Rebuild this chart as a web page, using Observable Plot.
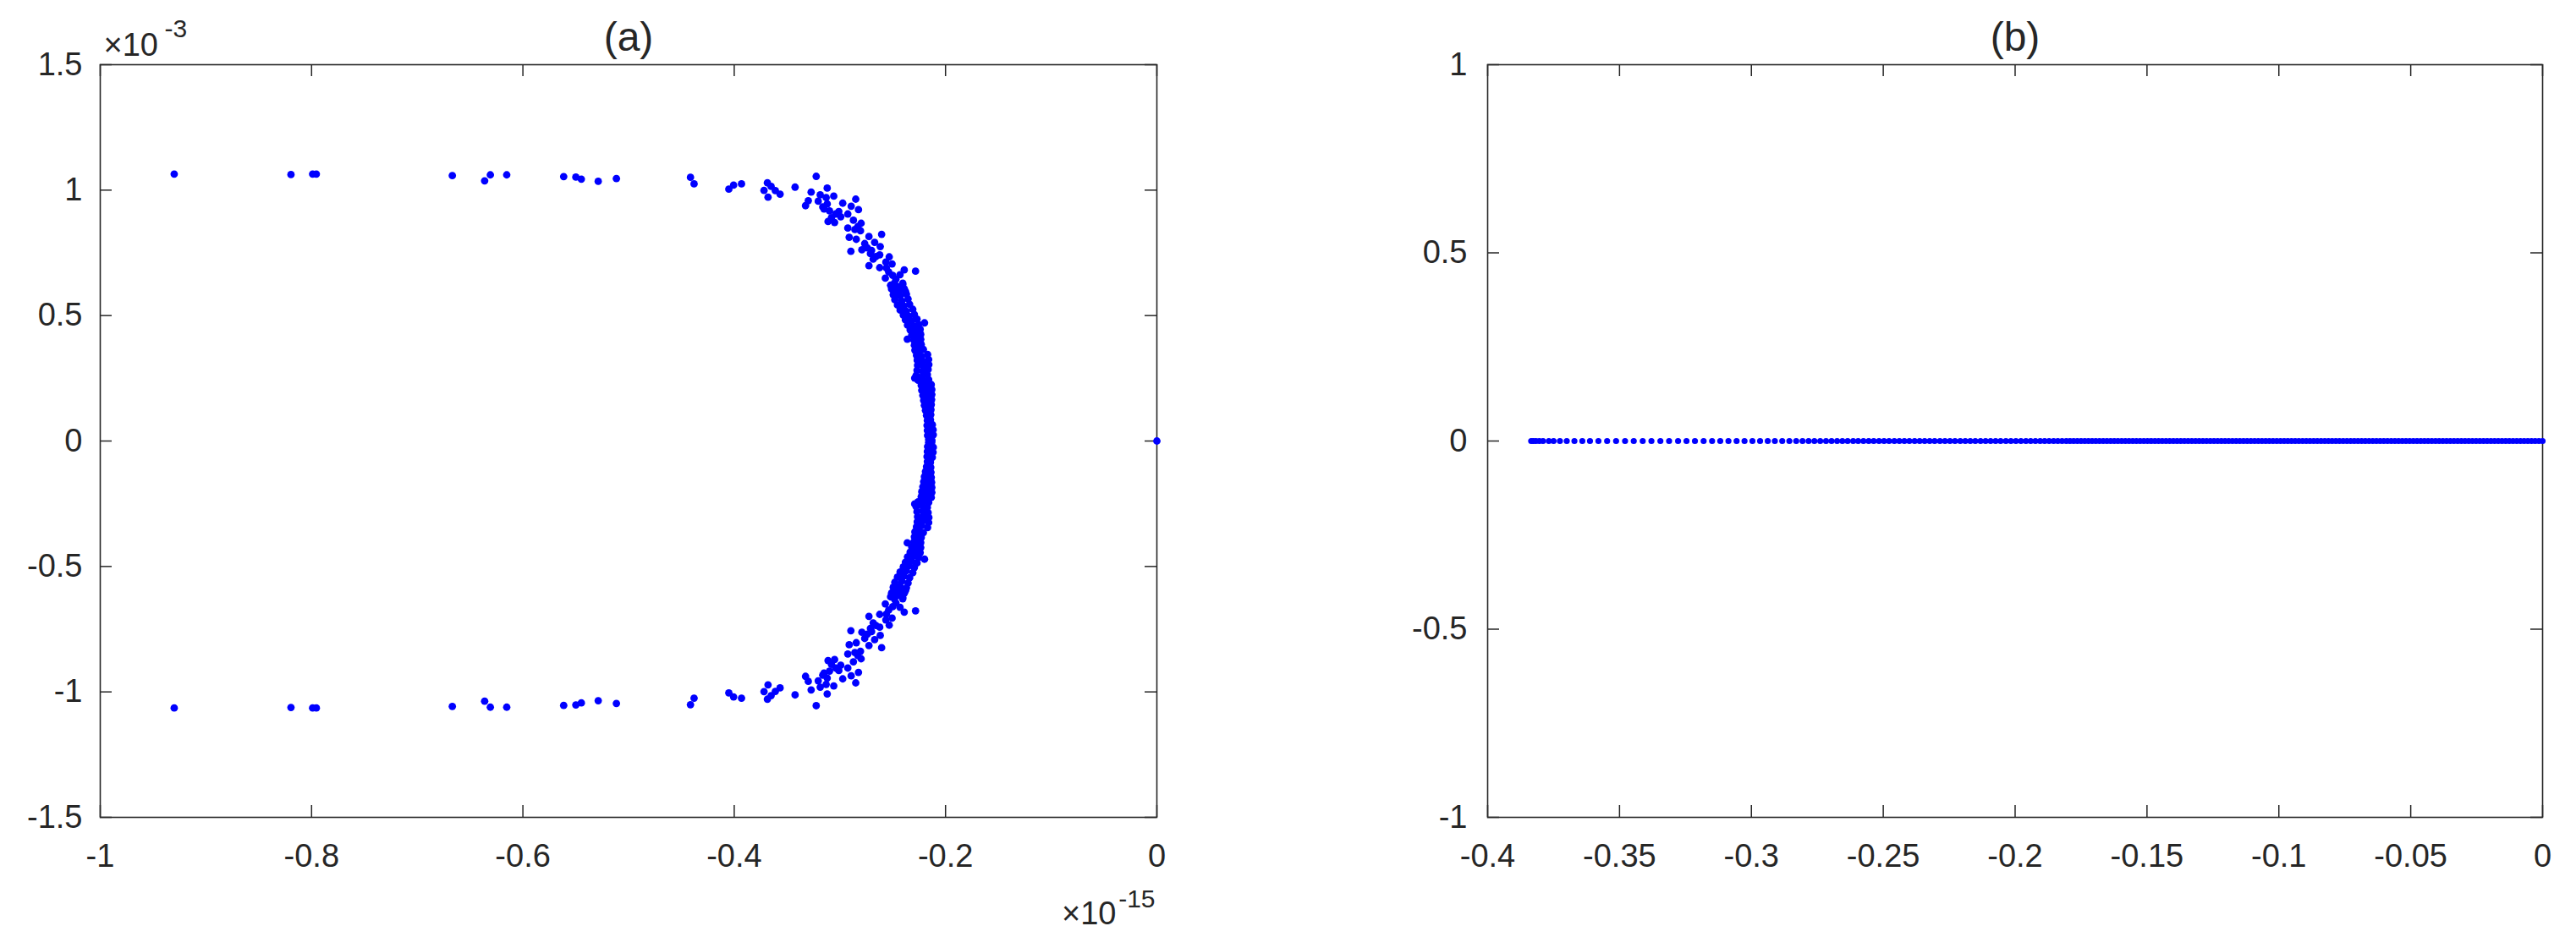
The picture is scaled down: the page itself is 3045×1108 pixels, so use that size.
<!DOCTYPE html>
<html>
<head>
<meta charset="utf-8">
<script src="https://cdn.jsdelivr.net/npm/d3@7"></script>
<script src="https://cdn.jsdelivr.net/npm/@observablehq/plot@0.6"></script>
<style>
html, body { margin: 0; padding: 0; background: #ffffff; }
#root { position: relative; width: 3045px; height: 1108px; overflow: hidden; background: #ffffff;
        font-family: "Liberation Sans", Arial, Helvetica, sans-serif; }
#root svg { position: absolute; top: 0; overflow: visible; }
</style>
</head>
<body>
<div id="root"></div>
<script>
// ---------------- DATA ----------------
// Panel (a): eigenvalues, real part in units of 1e-15, imaginary part in units of 1e-3
const panelAUpper = [
  [-0.9300,1.064],[-0.8195,1.062],[-0.7990,1.064],[-0.7955,1.064],[-0.6668,1.058],[-0.6362,1.037],
  [-0.6308,1.061],[-0.6153,1.061],[-0.5614,1.054],[-0.5499,1.052],[-0.5447,1.044],[-0.5287,1.035],
  [-0.5115,1.046],[-0.4414,1.051],[-0.4380,1.025],[-0.4051,1.004],[-0.4006,1.020],[-0.3931,1.025],
  [-0.3686,1.029],[-0.3651,1.015],[-0.3718,0.999],[-0.3611,0.998],[-0.3566,0.984],[-0.3680,0.972],
  [-0.3424,1.012],[-0.3224,1.055],[-0.3272,0.992],[-0.3120,1.008],[-0.3186,0.981],[-0.3058,0.976],
  [-0.3130,0.970],[-0.3299,0.958],[-0.3325,0.938],[-0.3205,0.956],[-0.3162,0.933],[-0.3120,0.945],
  [-0.3098,0.917],[-0.3040,0.905],[-0.2973,0.948],[-0.2850,0.964],[-0.2893,0.936],[-0.2824,0.922],
  [-0.2992,0.894],[-0.2925,0.905],[-0.3112,0.875],[-0.3050,0.871],[-0.2872,0.880],[-0.2799,0.868],
  [-0.2925,0.849],[-0.2858,0.843],[-0.2805,0.838],[-0.2912,0.812],[-0.2845,0.804],[-0.2725,0.815],
  [-0.2605,0.824],[-0.2765,0.787],[-0.2671,0.792],[-0.2618,0.775],[-0.2792,0.762],[-0.2896,0.756],
  [-0.2711,0.747],[-0.2623,0.742],[-0.2685,0.725],[-0.2533,0.734],[-0.2565,0.713],[-0.2506,0.706],
  [-0.2725,0.699],[-0.2623,0.691],[-0.2538,0.674],[-0.2391,0.682],[-0.2284,0.677],[-0.2431,0.663],
  [-0.2570,0.649],[-0.2485,0.629],[-0.2405,0.629],[-0.2458,0.595],[-0.2511,0.606],[-0.2378,0.595],
  [-0.3150,0.925],[-0.3080,0.890],[-0.3010,0.915],[-0.2830,0.855],[-0.2740,0.770],[-0.2700,0.760],
  [-0.2660,0.735],[-0.2560,0.690],[-0.2500,0.660],[-0.2470,0.645],[-0.2440,0.615],[-0.2420,0.605],
  [-0.2470,0.580],
  [-0.2520,0.621],[-0.2465,0.617],[-0.2405,0.624],[-0.2500,0.603],[-0.2445,0.598],[-0.2390,0.606],
  [-0.2495,0.583],[-0.2430,0.579],[-0.2370,0.585],[-0.2480,0.563],[-0.2415,0.558],[-0.2355,0.566],
  [-0.2455,0.542],[-0.2395,0.538],[-0.2340,0.545],[-0.2430,0.522],[-0.2370,0.517],[-0.2310,0.525],
  [-0.2400,0.502],[-0.2345,0.497],[-0.2295,0.504],[-0.2380,0.483],[-0.2320,0.478],[-0.2270,0.486],
  [-0.2360,0.462],[-0.2300,0.457],[-0.2255,0.465],[-0.2335,0.443],[-0.2285,0.438],[-0.2240,0.445],
  [-0.2320,0.422],[-0.2275,0.417],[-0.2235,0.425],[-0.2300,0.402],[-0.2265,0.397],[-0.2235,0.405],
  [-0.2295,0.382],[-0.2260,0.377],[-0.2230,0.385],[-0.2290,0.362],[-0.2250,0.357],[-0.2210,0.365],
  [-0.2275,0.342],[-0.2225,0.337],[-0.2170,0.345],[-0.2268,0.322],[-0.2215,0.317],[-0.2160,0.325],
  [-0.2265,0.302],[-0.2210,0.297],[-0.2158,0.305],[-0.2270,0.282],[-0.2215,0.277],[-0.2165,0.285],
  [-0.2278,0.262],[-0.2220,0.257],[-0.2172,0.265],[-0.2260,0.242],[-0.2205,0.237],[-0.2160,0.245],
  [-0.2230,0.222],[-0.2180,0.217],[-0.2135,0.225],[-0.2225,0.202],[-0.2175,0.197],[-0.2130,0.205],
  [-0.2215,0.182],[-0.2170,0.177],[-0.2130,0.185],[-0.2207,0.162],[-0.2165,0.157],[-0.2132,0.165],
  [-0.2200,0.142],[-0.2160,0.137],[-0.2135,0.145],[-0.2190,0.122],[-0.2158,0.117],[-0.2138,0.125],
  [-0.2180,0.102],[-0.2155,0.097],[-0.2140,0.105],[-0.2172,0.082],[-0.2150,0.077],[-0.2143,0.085],
  [-0.2175,0.062],[-0.2148,0.057],[-0.2125,0.065],[-0.2172,0.042],[-0.2140,0.037],[-0.2118,0.045],
  [-0.2170,0.022],[-0.2145,0.017],[-0.2116,0.025],[-0.2160,0.006],[-0.2130,0.004],
  [-0.2199,0.471],[-0.2362,0.406],[-0.2292,0.251]
];
const panelALower = [
  [-0.9300,-1.064],[-0.8195,-1.062],[-0.7990,-1.064],[-0.7955,-1.064],[-0.6668,-1.058],[-0.6362,-1.037],
  [-0.6308,-1.061],[-0.6153,-1.061],[-0.5614,-1.054],[-0.5499,-1.052],[-0.5447,-1.044],[-0.5287,-1.035],
  [-0.5115,-1.046],[-0.4414,-1.051],[-0.4380,-1.025],[-0.4051,-1.004],[-0.4006,-1.020],[-0.3931,-1.025],
  [-0.3686,-1.029],[-0.3651,-1.015],[-0.3718,-0.999],[-0.3611,-0.998],[-0.3566,-0.984],[-0.3680,-0.972],
  [-0.3424,-1.012],[-0.3224,-1.055],[-0.3272,-0.992],[-0.3120,-1.008],[-0.3186,-0.981],[-0.3058,-0.976],
  [-0.3130,-0.970],[-0.3299,-0.958],[-0.3325,-0.938],[-0.3205,-0.956],[-0.3162,-0.933],[-0.3120,-0.945],
  [-0.3098,-0.917],[-0.3040,-0.905],[-0.2973,-0.948],[-0.2850,-0.964],[-0.2893,-0.936],[-0.2824,-0.922],
  [-0.2992,-0.894],[-0.2925,-0.905],[-0.3112,-0.875],[-0.3050,-0.871],[-0.2872,-0.880],[-0.2799,-0.868],
  [-0.2925,-0.849],[-0.2858,-0.843],[-0.2805,-0.838],[-0.2912,-0.812],[-0.2845,-0.804],[-0.2725,-0.815],
  [-0.2605,-0.824],[-0.2765,-0.787],[-0.2671,-0.792],[-0.2618,-0.775],[-0.2792,-0.762],[-0.2896,-0.756],
  [-0.2711,-0.747],[-0.2623,-0.742],[-0.2685,-0.725],[-0.2533,-0.734],[-0.2565,-0.713],[-0.2506,-0.706],
  [-0.2725,-0.699],[-0.2623,-0.691],[-0.2538,-0.674],[-0.2391,-0.682],[-0.2284,-0.677],[-0.2431,-0.663],
  [-0.2570,-0.649],[-0.2485,-0.629],[-0.2405,-0.629],[-0.2458,-0.595],[-0.2511,-0.606],[-0.2378,-0.595],
  [-0.3150,-0.925],[-0.3080,-0.890],[-0.3010,-0.915],[-0.2830,-0.855],[-0.2740,-0.770],[-0.2700,-0.760],
  [-0.2660,-0.735],[-0.2560,-0.690],[-0.2500,-0.660],[-0.2470,-0.645],[-0.2440,-0.615],[-0.2420,-0.605],
  [-0.2470,-0.580],
  [-0.2520,-0.621],[-0.2465,-0.617],[-0.2405,-0.624],[-0.2500,-0.603],[-0.2445,-0.598],[-0.2390,-0.606],
  [-0.2495,-0.583],[-0.2430,-0.579],[-0.2370,-0.585],[-0.2480,-0.563],[-0.2415,-0.558],[-0.2355,-0.566],
  [-0.2455,-0.542],[-0.2395,-0.538],[-0.2340,-0.545],[-0.2430,-0.522],[-0.2370,-0.517],[-0.2310,-0.525],
  [-0.2400,-0.502],[-0.2345,-0.497],[-0.2295,-0.504],[-0.2380,-0.483],[-0.2320,-0.478],[-0.2270,-0.486],
  [-0.2360,-0.462],[-0.2300,-0.457],[-0.2255,-0.465],[-0.2335,-0.443],[-0.2285,-0.438],[-0.2240,-0.445],
  [-0.2320,-0.422],[-0.2275,-0.417],[-0.2235,-0.425],[-0.2300,-0.402],[-0.2265,-0.397],[-0.2235,-0.405],
  [-0.2295,-0.382],[-0.2260,-0.377],[-0.2230,-0.385],[-0.2290,-0.362],[-0.2250,-0.357],[-0.2210,-0.365],
  [-0.2275,-0.342],[-0.2225,-0.337],[-0.2170,-0.345],[-0.2268,-0.322],[-0.2215,-0.317],[-0.2160,-0.325],
  [-0.2265,-0.302],[-0.2210,-0.297],[-0.2158,-0.305],[-0.2270,-0.282],[-0.2215,-0.277],[-0.2165,-0.285],
  [-0.2278,-0.262],[-0.2220,-0.257],[-0.2172,-0.265],[-0.2260,-0.242],[-0.2205,-0.237],[-0.2160,-0.245],
  [-0.2230,-0.222],[-0.2180,-0.217],[-0.2135,-0.225],[-0.2225,-0.202],[-0.2175,-0.197],[-0.2130,-0.205],
  [-0.2215,-0.182],[-0.2170,-0.177],[-0.2130,-0.185],[-0.2207,-0.162],[-0.2165,-0.157],[-0.2132,-0.165],
  [-0.2200,-0.142],[-0.2160,-0.137],[-0.2135,-0.145],[-0.2190,-0.122],[-0.2158,-0.117],[-0.2138,-0.125],
  [-0.2180,-0.102],[-0.2155,-0.097],[-0.2140,-0.105],[-0.2172,-0.082],[-0.2150,-0.077],[-0.2143,-0.085],
  [-0.2175,-0.062],[-0.2148,-0.057],[-0.2125,-0.065],[-0.2172,-0.042],[-0.2140,-0.037],[-0.2118,-0.045],
  [-0.2170,-0.022],[-0.2145,-0.017],[-0.2116,-0.025],[-0.2160,-0.006],[-0.2130,-0.004],
  [-0.2199,-0.471],[-0.2362,-0.406],[-0.2292,-0.251]
];
const panelAOrigin = [[0, 0]];

// Panel (b): eigenvalues, all on the real axis (imaginary part 0)
const panelBRe = [
  -0.3835,-0.3827,-0.3817,-0.3804,-0.3790,-0.3768,-0.3750,-0.3726,-0.3700,-0.3671,
  -0.3641,-0.3612,-0.3580,-0.3547,-0.3513,-0.3479,-0.3446,-0.3412,-0.3379,-0.3345,
  -0.3312,-0.3278,-0.3246,-0.3214,-0.3181,-0.3149,-0.3118,-0.3087,-0.3056,-0.3026,
  -0.2996,-0.2967,-0.2938,-0.2911,-0.2883,-0.2856,-0.2830,-0.2806,-0.2783,-0.2761,
  -0.2739,-0.2717,-0.2696,-0.2675,-0.2655,-0.2635,-0.2614,-0.2595,-0.2575,-0.2555,
  -0.2536,-0.2516,-0.2497,-0.2478,-0.2458,-0.2439,-0.2420,-0.2401,-0.2381,-0.2362,
  -0.2343,-0.2324,-0.2305,-0.2285,-0.2266,-0.2247,-0.2228,-0.2208,-0.2189,-0.2170,
  -0.2151,-0.2131,-0.2112,-0.2093,-0.2074,-0.2055,-0.2035,-0.2016,-0.1997,-0.1978,
  -0.1959,-0.1941,-0.1923,-0.1905,-0.1888,-0.1871,-0.1854,-0.1838,-0.1822,-0.1806,
  -0.1792,-0.1778,-0.1764,-0.1750,-0.1736,-0.1722,-0.1708,-0.1694,-0.1680,-0.1666,
  -0.1652,-0.1638,-0.1624,-0.1610,-0.1596,-0.1582,-0.1568,-0.1554,-0.1540,-0.1526,
  -0.1512,-0.1498,-0.1484,-0.1470,-0.1456,-0.1442,-0.1428,-0.1414,-0.1400,-0.1386,
  -0.1372,-0.1358,-0.1344,-0.1330,-0.1316,-0.1302,-0.1288,-0.1274,-0.1260,-0.1246,
  -0.1232,-0.1218,-0.1204,-0.1190,-0.1176,-0.1162,-0.1148,-0.1134,-0.1120,-0.1106,
  -0.1092,-0.1078,-0.1064,-0.1050,-0.1036,-0.1022,-0.1008,-0.0994,-0.0980,-0.0966,
  -0.0952,-0.0938,-0.0924,-0.0910,-0.0896,-0.0882,-0.0868,-0.0854,-0.0840,-0.0826,
  -0.0812,-0.0798,-0.0784,-0.0770,-0.0756,-0.0742,-0.0728,-0.0714,-0.0700,-0.0686,
  -0.0672,-0.0658,-0.0644,-0.0630,-0.0616,-0.0602,-0.0588,-0.0574,-0.0560,-0.0546,
  -0.0532,-0.0518,-0.0504,-0.0490,-0.0476,-0.0462,-0.0448,-0.0434,-0.0420,-0.0406,
  -0.0392,-0.0378,-0.0364,-0.0350,-0.0336,-0.0322,-0.0308,-0.0294,-0.0280,-0.0266,
  -0.0252,-0.0238,-0.0224,-0.0210,-0.0196,-0.0182,-0.0168,-0.0154,-0.0140,-0.0126,
  -0.0112,-0.0098,-0.0084,-0.0070,-0.0056,-0.0042,-0.0028,-0.0014,0
];
const panelBIm = 0;

// Axis ticks and labels
const aXTicks = [-1, -0.8, -0.6, -0.4, -0.2, 0];
const aYTicks = [-1.5, -1, -0.5, 0, 0.5, 1, 1.5];
const bXTicks = [-0.4, -0.35, -0.3, -0.25, -0.2, -0.15, -0.1, -0.05, 0];
const bYTicks = [-1, -0.5, 0, 0.5, 1];
const titles = ["(a)", "(b)"];
const aXExponent = ["×10", "-15"];
const aYExponent = ["×10", "-3"];

// ---------------- DRAWING ----------------
const INK = "#262626";
const BLUE = "#0000ff";
const H = 1108, MT = 76, MB = 1108 - 966;
const TICK = 14;
const fmt = d => String(d);
const root = document.getElementById("root");

function panel({width, left, marginLeft, marginRight, xDomain, yDomain, xTicks, yTicks, layers, title, yPad}) {
  const fw = width - marginLeft - marginRight;
  const fh = H - MT - MB;
  const svg = Plot.plot({
    width, height: H, marginTop: MT, marginBottom: MB, marginLeft, marginRight,
    style: {fontFamily: '"Liberation Sans", Arial, Helvetica, sans-serif', fontSize: "38px", color: INK, background: "transparent", overflow: "visible"},
    x: {domain: xDomain},
    y: {domain: yDomain},
    marks: [
      Plot.axisX(xTicks, {anchor: "bottom", tickSize: 0, tickPadding: 32, tickFormat: fmt, fontSize: 38, fill: INK, label: null}),
      Plot.axisY(yTicks, {anchor: "left", tickSize: 0, tickPadding: yPad, tickFormat: fmt, fontSize: 38, fill: INK, label: null}),
      Plot.tickX(xTicks, {x: d => d, insetBottom: fh - TICK, stroke: INK, strokeWidth: 1.5}),
      Plot.tickX(xTicks, {x: d => d, insetTop: fh - TICK, stroke: INK, strokeWidth: 1.5}),
      Plot.tickY(yTicks, {y: d => d, insetRight: fw - TICK, stroke: INK, strokeWidth: 1.5}),
      Plot.tickY(yTicks, {y: d => d, insetLeft: fw - TICK, stroke: INK, strokeWidth: 1.5}),
      Plot.frame({stroke: INK, strokeWidth: 1.6}),
      ...layers,
      Plot.text([title], {frameAnchor: "top", lineAnchor: "bottom", dy: -17, fontSize: 48, fill: INK})
    ]
  });
  svg.style.left = left + "px";
  root.appendChild(svg);
}

// Panel (a)
panel({
  width: 1500, left: 0, marginLeft: 118, marginRight: 1500 - 1367,
  xDomain: [-1, 0], yDomain: [-1.5, 1.5], xTicks: aXTicks, yTicks: aYTicks, title: titles[0], yPad: 21,
  layers: [
    Plot.dot(panelAUpper, {x: d => d[0], y: d => d[1], r: 4.4, fill: BLUE, stroke: "none"}),
    Plot.dot(panelALower, {x: d => d[0], y: d => d[1], r: 4.4, fill: BLUE, stroke: "none"}),
    Plot.dot(panelAOrigin, {x: d => d[0], y: d => d[1], r: 4.4, fill: BLUE, stroke: "none"}),
    Plot.text([aYExponent[0]], {frameAnchor: "top-left", textAnchor: "start", lineAnchor: "bottom", dx: 4, dy: -11, fontSize: 38, fill: INK}),
    Plot.text([aYExponent[1]], {frameAnchor: "top-left", textAnchor: "start", lineAnchor: "bottom", dx: 76, dy: -33, fontSize: 30, fill: INK}),
    Plot.text([aXExponent[0]], {frameAnchor: "bottom-right", textAnchor: "end", lineAnchor: "bottom", dx: -48, dy: 126, fontSize: 38, fill: INK}),
    Plot.text([aXExponent[1]], {frameAnchor: "bottom-right", textAnchor: "end", lineAnchor: "bottom", dx: -2, dy: 106, fontSize: 30, fill: INK})
  ]
});

// Panel (b)
const panelBTable = panelBRe.map(re => ({re, im: panelBIm}));
panel({
  width: 1405, left: 1640, marginLeft: 118, marginRight: 40,
  xDomain: [-0.4, 0], yDomain: [-1, 1], xTicks: bXTicks, yTicks: bYTicks, title: titles[1], yPad: 24,
  layers: [
    Plot.dot(panelBTable, {x: "re", y: "im", r: 3.6, fill: BLUE, stroke: "none"})
  ]
});
</script>
</body>
</html>
